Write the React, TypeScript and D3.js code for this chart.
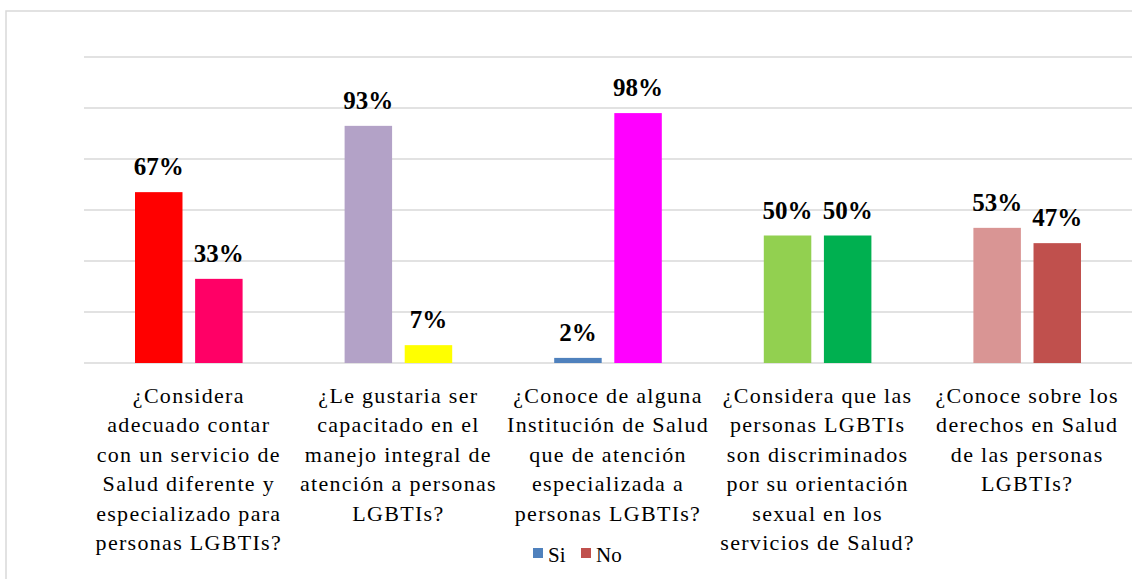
import React from "react";
import * as d3 from "d3";

const categories: string[][] = [
  ["¿Considera", "adecuado contar", "con un servicio de", "Salud diferente y", "especializado para", "personas LGBTIs?"],
  ["¿Le gustaria ser", "capacitado en el", "manejo integral de", "atención a personas", "LGBTIs?"],
  ["¿Conoce de alguna", "Institución de Salud", "que de atención", "especializada a", "personas LGBTIs?"],
  ["¿Considera que las", "personas LGBTIs", "son discriminados", "por su orientación", "sexual en los", "servicios de Salud?"],
  ["¿Conoce sobre los", "derechos en Salud", "de las personas", "LGBTIs?"],
];
const seriesNames = ["Si", "No"];
const siValues = [0.67, 0.93, 0.02, 0.5, 0.53];
const noValues = [0.33, 0.07, 0.98, 0.5, 0.47];
const siColors = ["#FF0000", "#B3A2C7", "#4F81BD", "#92D050", "#D99594"];
const noColors = ["#FF0066", "#FFFF00", "#FF00FF", "#00B050", "#C0504D"];
const legendColors = ["#4F81BD", "#C0504D"];
const yTicks = [0, 0.2, 0.4, 0.6, 0.8, 1.0, 1.2];

export default function App() {
  const W = 1132;
  const H = 579;
  const x0 = d3.scaleBand<number>().domain(d3.range(categories.length)).range([84, 1132]).padding(0);
  const x1 = d3.scaleBand<string>().domain(seriesNames).range([51, x0.bandwidth() - 51]).paddingInner(0.21);
  const y = d3.scaleLinear().domain([0, 1.2]).range([363, 57]);
  const fmt = d3.format(".0%");
  const serif = { fontFamily: '"Liberation Serif", "Times New Roman", serif' };

  return (
    <svg width={W} height={H} style={{ position: "absolute", left: 0, top: 0, background: "#fff" }}>
      <rect x={6} y={11} width={W + 20} height={H + 20} fill="#fff" stroke="#D9D9D9" strokeWidth={1.5} />
      {yTicks.map((t) => (
        <line key={t} x1={84} x2={W} y1={y(t)} y2={y(t)} stroke="#D9D9D9" strokeWidth={1.5} />
      ))}
      {categories.map((lines, i) => {
        const gx = x0(i)!;
        const vals = [siValues[i], noValues[i]];
        const cols = [siColors[i], noColors[i]];
        return (
          <g key={i}>
            {seriesNames.map((s, j) => {
              const bx = gx + x1(s)!;
              const v = vals[j];
              return (
                <g key={s}>
                  <rect x={bx} y={y(v)} width={x1.bandwidth()} height={y(0) - y(v)} fill={cols[j]} />
                  <text
                    x={bx + x1.bandwidth() / 2}
                    y={y(v) - 17}
                    textAnchor="middle"
                    style={serif}
                    fontWeight="bold"
                    fontSize={25}
                    fill="#000"
                  >
                    {fmt(v)}
                  </text>
                </g>
              );
            })}
            {lines.map((ln, k) => (
              <text
                key={k}
                x={gx + x0.bandwidth() / 2}
                y={403 + k * 29.4}
                textAnchor="middle"
                style={serif}
                fontSize={22}
                letterSpacing={1.3}
                fill="#000"
              >
                {ln}
              </text>
            ))}
          </g>
        );
      })}
      <g>
        <rect x={533} y={548} width={10} height={10} fill={legendColors[0]} />
        <text x={548} y={562} style={serif} fontSize={21} fill="#000">{seriesNames[0]}</text>
        <rect x={581} y={548} width={10} height={10} fill={legendColors[1]} />
        <text x={596} y={562} style={serif} fontSize={21} fill="#000">{seriesNames[1]}</text>
      </g>
    </svg>
  );
}
